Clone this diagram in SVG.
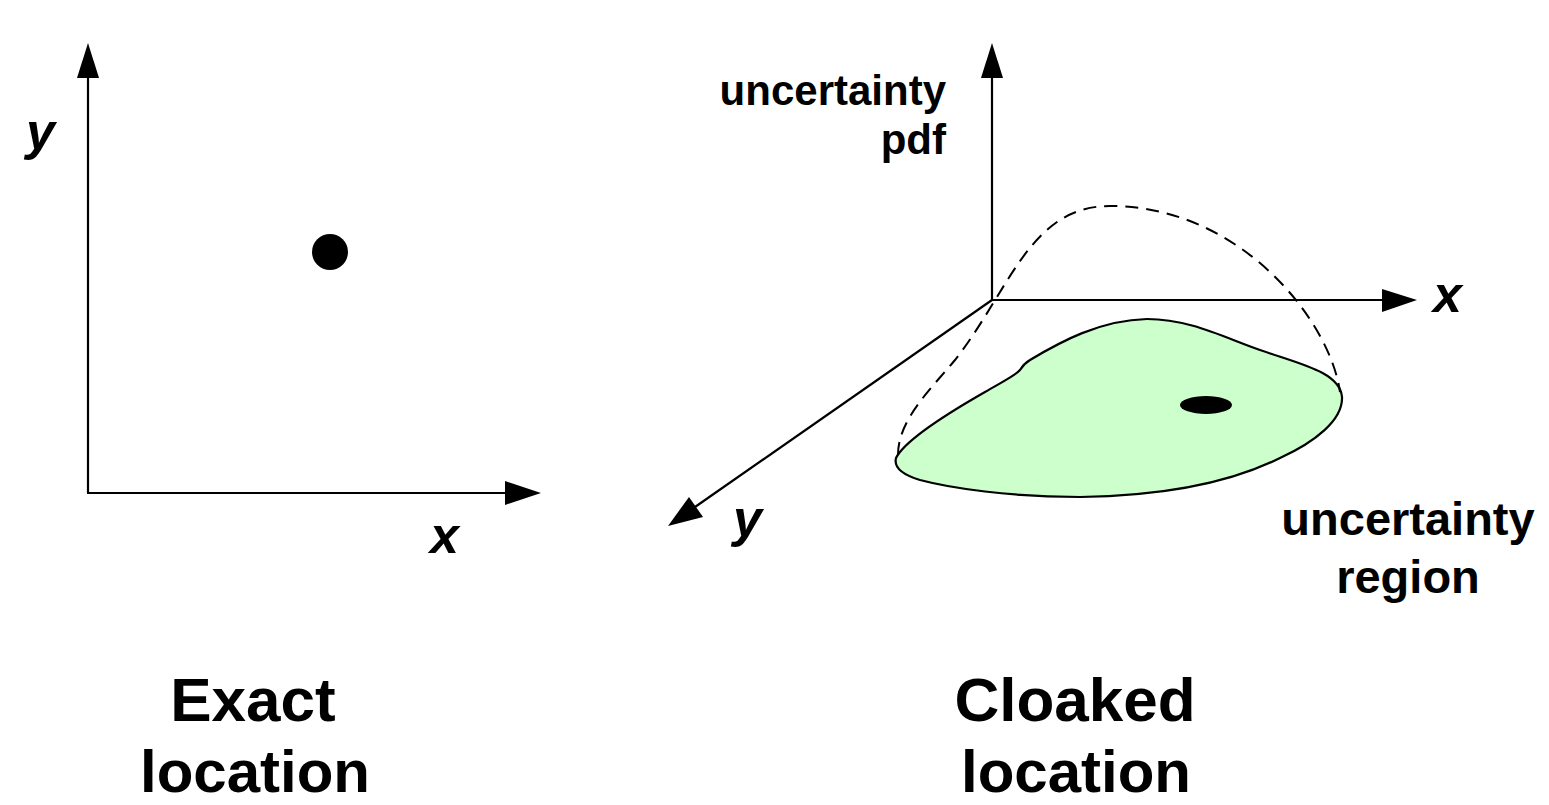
<svg xmlns="http://www.w3.org/2000/svg" width="1549" height="805" viewBox="0 0 1549 805">
<style>
.ax{stroke:#000;stroke-width:2.2;fill:none}
.ah{fill:#000;stroke:none}
.lbl{font-family:"Liberation Sans",Arial,sans-serif;font-weight:bold;fill:#000}
.it{font-style:italic;font-size:52px}
.title{font-size:62px;text-anchor:middle}
.loc{font-size:60px;text-anchor:middle}
</style>
<rect width="1549" height="805" fill="#fff"/>
<g id="left-plot">
  <g id="left-axes">
    <line class="ax" x1="88" y1="493" x2="88" y2="75"/>
    <polygon class="ah" points="88,43 77,78 99,78"/>
    <line class="ax" x1="87" y1="493" x2="508" y2="493"/>
    <polygon class="ah" points="541,493 505,481 505,505"/>
  </g>
  <text class="lbl it" x="26" y="149">y</text>
  <text class="lbl it" x="430" y="553">x</text>
  <circle id="exact-point" cx="330" cy="252" r="18" fill="#000"/>
  <text class="lbl title" x="253" y="721">Exact</text>
  <text class="lbl loc" x="255" y="792">location</text>
</g>
<g id="right-plot">
  <g id="region">
    <path d="M 896,458 C 905,440 950,412 985,392 C 1000,383 1015,376 1020,370 C 1023,365 1025,363 1030,360 C 1060,342 1100,320 1147,319 C 1190,319 1225,338 1260,350 C 1300,364 1340,372 1342,397 C 1343,420 1315,442 1280,458 C 1230,483 1160,496 1080,497 C 1010,497 950,488 920,480 C 900,474 894,466 896,458 Z" fill="#CCFFCC" stroke="#000" stroke-width="2.2"/>
    <ellipse cx="1206" cy="405" rx="26" ry="9" fill="#000"/>
  </g>
  <path id="pdf-curve" d="M 898,455 C 898,420 930,390 955,360 C 1010,290 1030,206 1110,206 C 1240,206 1330,320 1340,392" fill="none" stroke="#000" stroke-width="2" stroke-dasharray="13 8"/>
  <g id="right-axes">
    <line class="ax" x1="992" y1="300" x2="992" y2="75"/>
    <polygon class="ah" points="992,43 981,78 1003,78"/>
    <line class="ax" x1="991" y1="300" x2="1385" y2="300"/>
    <polygon class="ah" points="1417,300 1382,289 1382,312"/>
    <line class="ax" x1="992" y1="300" x2="695" y2="507"/>
    <polygon class="ah" points="668,526 689,497 703,517"/>
  </g>
  <text class="lbl" x="946" y="105" font-size="42" text-anchor="end">uncertainty</text>
  <text class="lbl" x="946" y="154" font-size="42" text-anchor="end">pdf</text>
  <text class="lbl it" x="1433" y="312">x</text>
  <text class="lbl it" x="733" y="536">y</text>
  <text class="lbl" x="1408" y="535" font-size="47" text-anchor="middle">uncertainty</text>
  <text class="lbl" x="1408" y="593" font-size="47" text-anchor="middle">region</text>
  <text class="lbl title" x="1075" y="721">Cloaked</text>
  <text class="lbl loc" x="1076" y="792">location</text>
</g>
</svg>
